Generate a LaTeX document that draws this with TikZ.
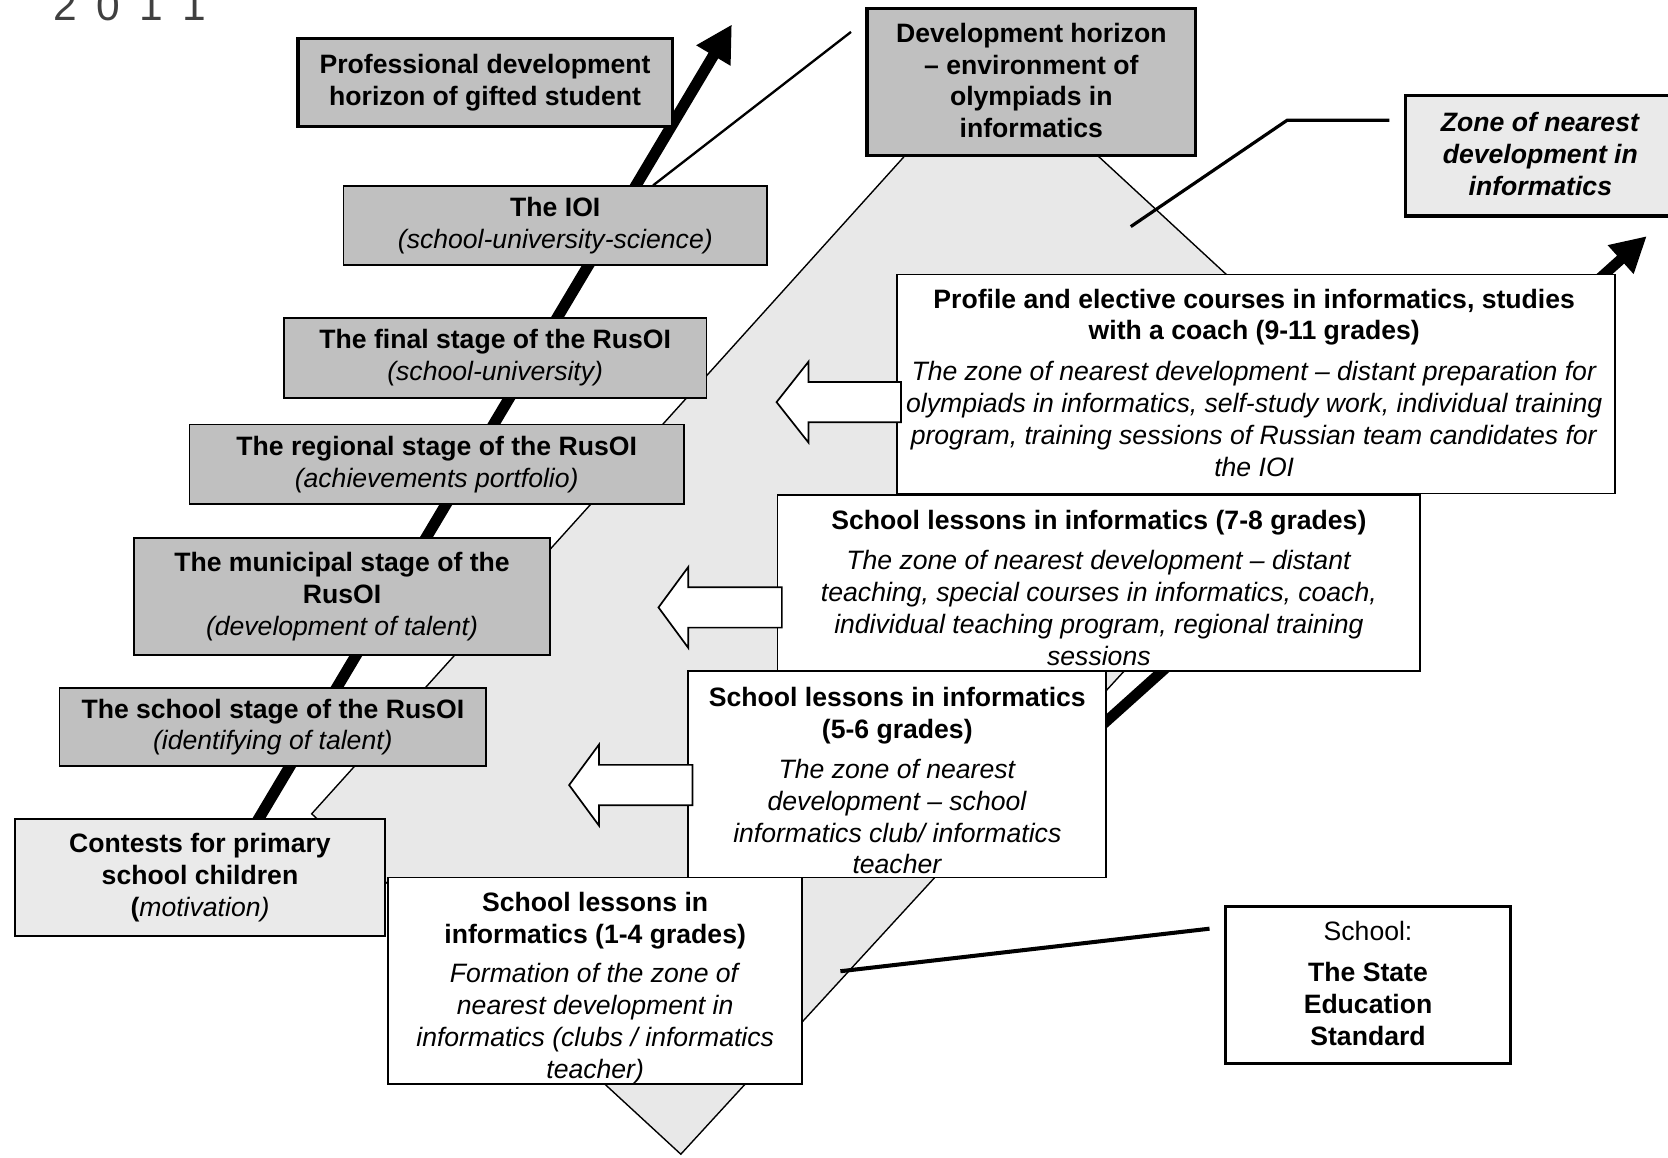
\documentclass[tikz,border=0pt]{standalone}
\usepackage{fontspec}
\setmainfont{Liberation Sans}
\usetikzlibrary{arrows.meta}
\definecolor{boxgray}{gray}{0.753}
\definecolor{lightfill}{gray}{0.918}
\definecolor{diafill}{gray}{0.91}
\newcommand\lnstrut{\rule[-3pt]{0pt}{30pt}}
\begin{document}
\begin{tikzpicture}[x=1pt,y=-1pt,
  txt/.style={font=\fontsize{25}{30}\selectfont, align=center, inner sep=0pt,
    execute at begin node=\lnstrut, execute at end node=\lnstrut},
  box/.style={txt, draw, line width=1.6pt},
  gbox/.style={box, fill=boxgray},
  lbox/.style={box, fill=lightfill},
  wbox/.style={box, fill=white},
  heavy/.style={line width=3.2pt},
  leader/.style={draw, line width=3pt},
  bigarrow/.style={line width=10.5pt, -{Triangle[length=34pt,width=35pt]}},
  smallarrow/.style={line width=10pt, -{Triangle[length=33pt,width=34pt]}},
  hollow/.style={draw, fill=white, line width=1.6pt, line join=miter},
]
\useasboundingbox (0,0) rectangle (1568,1088);
\clip (0,0) rectangle (1568,1088);

% header fragment
\node[font=\fontsize{40}{40}\selectfont, text=black!75, inner sep=0pt, anchor=base] (year) at (122,19)
  {\makebox[40.3pt]{2}\makebox[40.3pt]{0}\makebox[40.3pt]{1}\makebox[40.3pt]{1}};

% big grey rhombus
\draw[fill=diafill, line width=1.3pt] (933,55) -- (1286,381) -- (640,1085) -- (293,765) -- cycle;

% thick arrows
\coordinate (a1s) at (240,775);
\coordinate (a1e) at (688,23);
\draw[bigarrow] (a1s) -- (a1e);
\coordinate (a2s) at (1000,714);
\coordinate (a2e) at (1548,222);
\draw[smallarrow] (a2s) -- (a2e);

% leader lines
\coordinate (zl1) at (1306,113);
\coordinate (zl2) at (1210,113);
\coordinate (zl3) at (1063,213);
\draw[leader] (zl1) -- (zl2) -- (zl3);
\coordinate (sl1) at (1137,873);
\coordinate (sl2) at (790,913);
\draw[line width=3.8pt] (sl1) -- (sl2);

% left column of olympiad stages
\node[gbox, heavy, minimum width=352pt, minimum height=83pt] (prof) at (456,77.5)
  {\textbf{Professional development}\\\textbf{horizon of gifted student}};
\node[gbox, minimum width=398pt, minimum height=74pt] (ioi) at (522,212)
  {\textbf{The IOI}\\\textit{(school-university-science)}};
\coordinate (dl) at (800,30);
\draw[line width=2.2pt] (dl) -- ([xshift=92pt]ioi.north);
\node[gbox, minimum width=397pt, minimum height=75pt] (final) at (465.5,336.5)
  {\textbf{The final stage of the RusOI}\\\textit{(school-university)}};
\node[gbox, minimum width=465pt, minimum height=75pt] (regional) at (410.5,436.5)
  {\textbf{The regional stage of the RusOI}\\\textit{(achievements portfolio)}};
\node[gbox, minimum width=391pt, minimum height=110pt] (municipal) at (321.5,561)
  {\textbf{The municipal stage of the}\\\textbf{RusOI}\\\textit{(development of talent)}};
\node[gbox, minimum width=401pt, minimum height=73pt] (schoolst) at (256.5,683.5)
  {\textbf{The school stage of the RusOI}\\\textit{(identifying of talent)}};
\node[lbox, minimum width=348pt, minimum height=110pt] (contests) at (188,825)
  {\textbf{Contests for primary}\\\textbf{school children}\\\textbf{(}\textit{motivation)}};

% top right boxes
\node[gbox, heavy, minimum width=309pt, minimum height=138pt] (dev) at (969.5,77)
  {\textbf{Development horizon}\\\textbf{– environment of}\\\textbf{olympiads in}\\\textbf{informatics}};
\node[lbox, heavy, minimum width=254pt, minimum height=113pt] (zone) at (1448,146.5)
  {\textbf{\textit{Zone of nearest}}\\\textbf{\textit{development in}}\\\textbf{\textit{informatics}}};

% school level boxes
\node[wbox, minimum width=675pt, minimum height=206pt] (profile) at (1180.5,361) {};
\node[txt] (profilet) at (1179,361)
  {\textbf{Profile and elective courses in informatics, studies}\\
   \textbf{with a coach (9-11 grades)}\\[8pt]
   \textit{The zone of nearest development – distant preparation for}\\
   \textit{olympiads in informatics, self-study work, individual training}\\
   \textit{program, training sessions of Russian team candidates for}\\
   \textit{the IOI}};
\node[wbox, minimum width=604pt, minimum height=166pt] (g78) at (1033,548) {};
\node[txt] (g78t) at (1033,554)
  {\textbf{School lessons in informatics (7-8 grades)}\\[8pt]
   \textit{The zone of nearest development – distant}\\
   \textit{teaching, special courses in informatics, coach,}\\
   \textit{individual teaching program, regional training}\\
   \textit{sessions}};
\node[wbox, minimum width=393pt, minimum height=194pt] (g56) at (843.5,728) {};
\node[txt] (g56t) at (843.5,735.5)
  {\textbf{School lessons in informatics}\\
   \textbf{(5-6 grades)}\\[7pt]
   \textit{The zone of nearest}\\
   \textit{development – school}\\
   \textit{informatics club/ informatics}\\
   \textit{teacher}};
\node[wbox, minimum width=389pt, minimum height=194pt] (g14) at (559.5,922) {};
\node[txt] (g14t) at (559.5,928.5)
  {\textbf{School lessons in}\\
   \textbf{informatics (1-4 grades)}\\[7pt]
   \textit{Formation of the zone of}\\
   \textit{nearest development in}\\
   \textit{informatics (clubs / informatics}\\
   \textit{teacher)}};
\node[wbox, heavy, minimum width=268pt, minimum height=148pt] (std) at (1286,926) {};
\node[txt] (stdt) at (1286,926)
  {School:\\[8pt]\textbf{The State}\\\textbf{Education}\\\textbf{Standard}};

% hollow arrows pointing left
\draw[hollow] (730,378) -- ++(30,-38) -- ++(0,19) -- ++(87,0) -- ++(0,38) -- ++(-87,0) -- ++(0,19) -- cycle;
\draw[hollow] (619,571) -- ++(28,-38) -- ++(0,19) -- ++(88,0) -- ++(0,38) -- ++(-88,0) -- ++(0,19) -- cycle;
\draw[hollow] (535,738) -- ++(28,-38) -- ++(0,19) -- ++(88,0) -- ++(0,38) -- ++(-88,0) -- ++(0,19) -- cycle;
\end{tikzpicture}
\end{document}
